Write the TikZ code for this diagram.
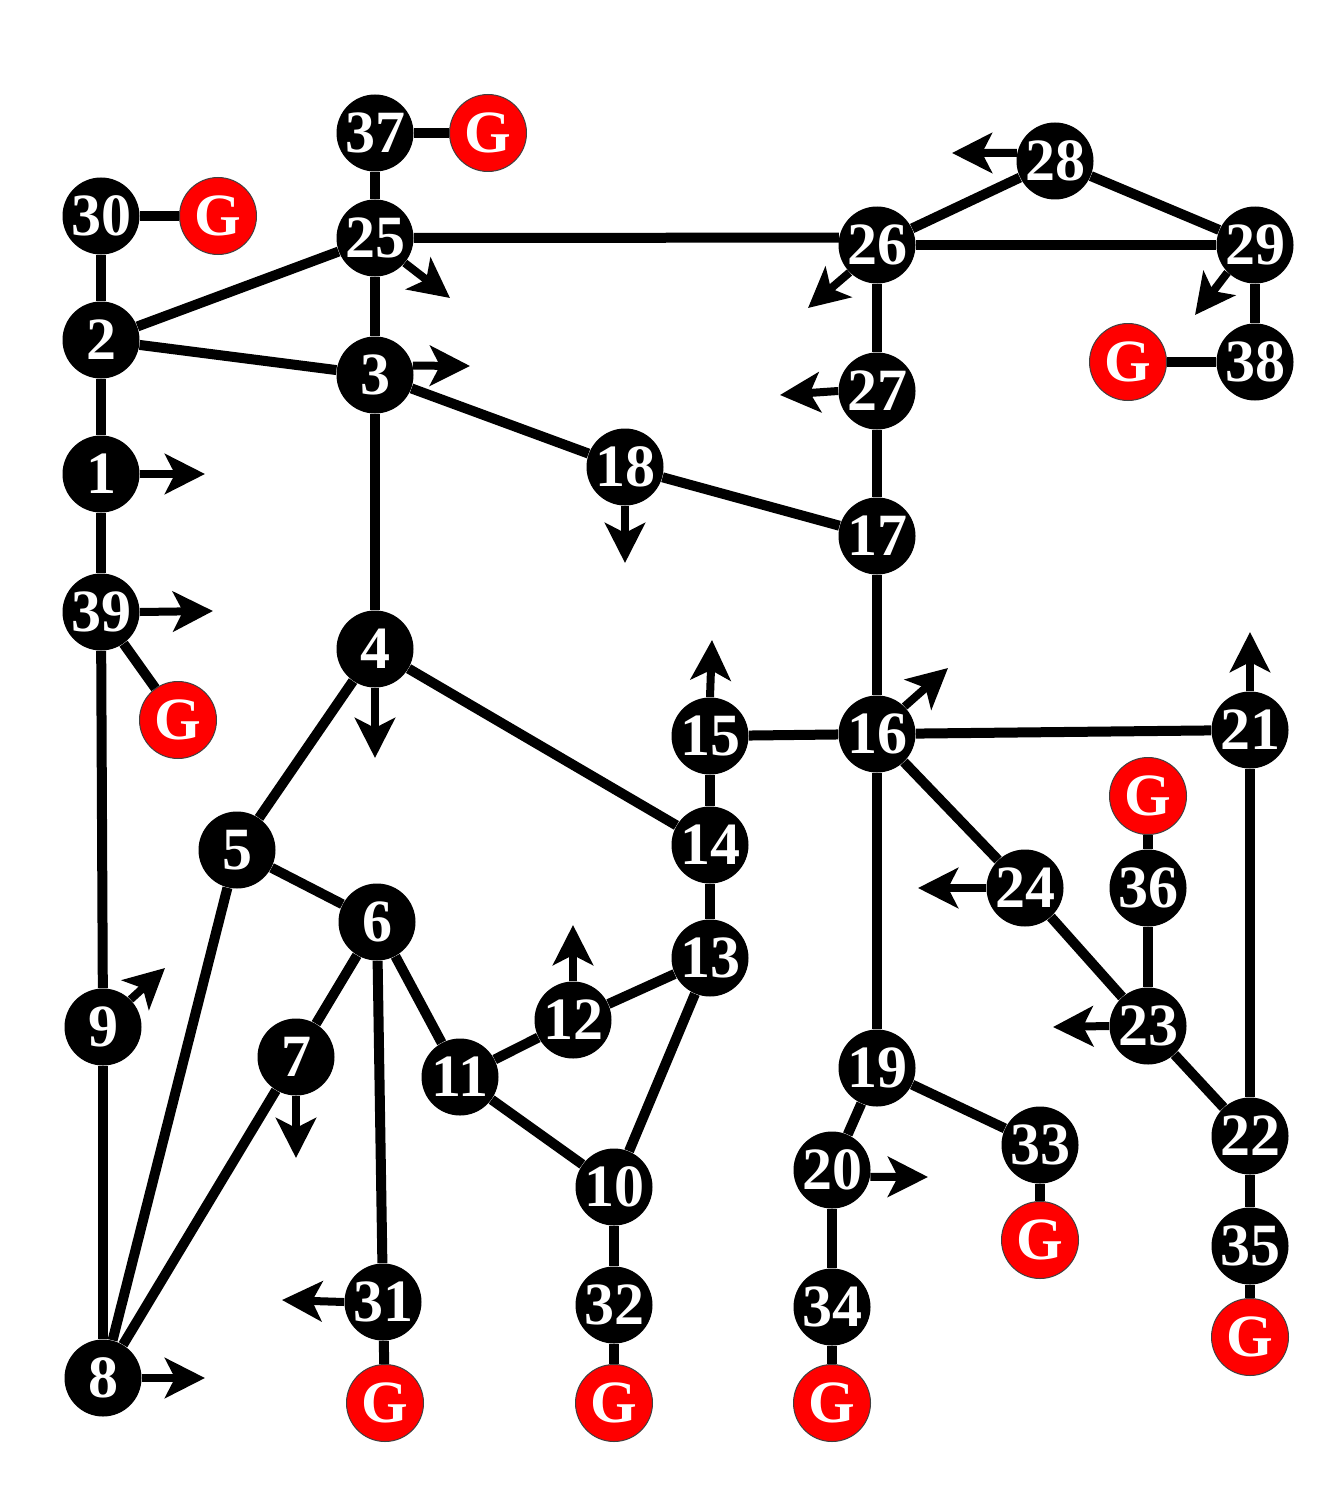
\documentclass[tikz,border=0pt]{standalone}
\usepackage{fontspec}
\setmainfont{Liberation Serif}
\usetikzlibrary{arrows.meta}
\begin{document}
\begin{tikzpicture}[x=0.5pt,y=-0.5pt,
  bus/.style={circle,fill=black,text=white,minimum size=38.5pt,inner sep=0pt,
    font=\fontsize{30}{30}\selectfont\bfseries},
  gen/.style={circle,fill=red,draw=black!75,line width=0.5pt,text=white,minimum size=38.5pt,inner sep=0pt,
    font=\fontsize{30}{30}\selectfont\bfseries},
  ln/.style={line width=5pt},
  load/.style={line width=4pt,-{Stealth[length=20pt,width=20pt,inset=5pt]}}]
\useasboundingbox (0,0) rectangle (1338,1503);
% buses
\node[bus] (b37) at (375,133) {37};
\node[bus] (b30) at (101,216) {30};
\node[bus] (b25) at (375,238) {25};
\node[bus] (b26) at (877,245) {26};
\node[bus] (b28) at (1055,161) {28};
\node[bus] (b29) at (1255,245) {29};
\node[bus] (b38) at (1255,362) {38};
\node[bus] (b2) at (101,340) {2};
\node[bus] (b3) at (375,375) {3};
\node[bus] (b27) at (877,391) {27};
\node[bus] (b1) at (101,474) {1};
\node[bus] (b18) at (625,467) {18};
\node[bus] (b17) at (877,536) {17};
\node[bus] (b39) at (101,612) {39};
\node[bus] (b4) at (375,649) {4};
\node[bus] (b15) at (710,736) {15};
\node[bus] (b16) at (877,734) {16};
\node[bus] (b21) at (1250,730) {21};
\node[bus] (b5) at (237,850) {5};
\node[bus] (b14) at (710,845) {14};
\node[bus] (b6) at (377,922) {6};
\node[bus] (b24) at (1025,888) {24};
\node[bus] (b36) at (1148,888) {36};
\node[bus] (b13) at (710,958) {13};
\node[bus] (b12) at (573,1020) {12};
\node[bus] (b9) at (103,1027) {9};
\node[bus] (b23) at (1148,1026) {23};
\node[bus] (b7) at (296,1057) {7};
\node[bus] (b11) at (460,1077) {11};
\node[bus] (b19) at (877,1068) {19};
\node[bus] (b33) at (1040,1145) {33};
\node[bus] (b22) at (1250,1136) {22};
\node[bus] (b10) at (614,1187) {10};
\node[bus] (b20) at (832,1170) {20};
\node[bus] (b35) at (1250,1246) {35};
\node[bus] (b31) at (383,1302) {31};
\node[bus] (b32) at (614,1305) {32};
\node[bus] (b34) at (832,1307) {34};
\node[bus] (b8) at (103,1378) {8};
% generators
\node[gen] (g37) at (488,133) {G};
\node[gen] (g30) at (218,216) {G};
\node[gen] (g38) at (1128,362) {G};
\node[gen] (g39) at (178,720) {G};
\node[gen] (g36) at (1148,796) {G};
\node[gen] (g33) at (1040,1240) {G};
\node[gen] (g35) at (1250,1337) {G};
\node[gen] (g31) at (385,1403) {G};
\node[gen] (g32) at (614,1403) {G};
\node[gen] (g34) at (832,1403) {G};
% lines
\draw[ln] (b37) -- (g37);
\draw[ln] (b37) -- (b25);
\draw[ln] (b30) -- (g30);
\draw[ln] (b30) -- (b2);
\draw[ln] (b2) -- (b25);
\draw[ln] (b2) -- (b3);
\draw[ln] (b25) -- (b3);
\draw[ln] (b25.east) -- (b26.169);
\draw[ln] (b26) -- (b28);
\draw[ln] (b28) -- (b29);
\draw[ln] (b26.east) -- (b29.west);
\draw[ln] (b29) -- (b38);
\draw[ln] (b38) -- (g38);
\draw[ln] (b26) -- (b27);
\draw[ln] (b27) -- (b17);
\draw[ln] (b3) -- (b18);
\draw[ln] (b18) -- (b17);
\draw[ln] (b3) -- (b4);
\draw[ln] (b2) -- (b1);
\draw[ln] (b1) -- (b39);
\draw[ln] (b39) -- (g39);
\draw[ln] (b39) -- (b9);
\draw[ln] (b9) -- (b8);
\draw[ln] (b4) -- (b5);
\draw[ln] (b4) -- (b14);
\draw[ln] (b5) -- (b6);
\draw[ln] (b5) -- (b8);
\draw[ln] (b6) -- (b7);
\draw[ln] (b7) -- (b8);
\draw[ln] (b6) -- (b31);
\draw[ln] (b31) -- (g31);
\draw[ln] (b6) -- (b11);
\draw[ln] (b11) -- (b12);
\draw[ln] (b12) -- (b13);
\draw[ln] (b11) -- (b10);
\draw[ln] (b10) -- (b13);
\draw[ln] (b10) -- (b32);
\draw[ln] (b32) -- (g32);
\draw[ln] (b13) -- (b14);
\draw[ln] (b14) -- (b15);
\draw[ln] (b15) -- (b16);
\draw[ln] (b17) -- (b16);
\draw[ln] (b16) -- (b21);
\draw[ln] (b16) -- (b24);
\draw[ln] (b16) -- (b19);
\draw[ln] (b24) -- (b23);
\draw[ln] (b23) -- (b36);
\draw[ln] (b36) -- (g36);
\draw[ln] (b23) -- (b22);
\draw[ln] (b21) -- (b22);
\draw[ln] (b22) -- (b35);
\draw[ln] (b35) -- (g35);
\draw[ln] (b19) -- (b33);
\draw[ln] (b33) -- (g33);
\draw[ln] (b19) -- (b20);
\draw[ln] (b20) -- (b34);
\draw[ln] (b34) -- (g34);
% loads
\coordinate (l1) at (205,474);   \draw[load] (b1.east) -- (l1);
\coordinate (l39) at (213,611);  \draw[load] (b39.east) -- (l39);
\coordinate (l8) at (205,1378);  \draw[load] (b8.east) -- (l8);
\coordinate (l3) at (470,366);   \draw[load] (b3.14) -- (l3);
\coordinate (l25) at (450,298);  \draw[load] (b25.-40) -- (l25);
\coordinate (l26) at (808,308);  \draw[load] (b26.-135) -- (l26);
\coordinate (l29) at (1195,315); \draw[load] (b29.-135) -- (l29);
\coordinate (l28) at (952,153);  \draw[load] (b28.168) -- (l28);
\coordinate (l27) at (780,395);  \draw[load] (b27.west) -- (l27);
\coordinate (l18) at (625,563);  \draw[load] (b18.south) -- (l18);
\coordinate (l4) at (375,758);   \draw[load] (b4.south) -- (l4);
\coordinate (l15) at (712,640);  \draw[load] (b15.north) -- (l15);
\coordinate (l16) at (948,668);  \draw[load] (b16.45) -- (l16);
\coordinate (l21) at (1250,632); \draw[load] (b21.north) -- (l21);
\coordinate (l24) at (918,888);  \draw[load] (b24.west) -- (l24);
\coordinate (l12) at (573,925);  \draw[load] (b12.north) -- (l12);
\coordinate (l9) at (165,968);   \draw[load] (b9.45) -- (l9);
\coordinate (l7) at (296,1158);  \draw[load] (b7.south) -- (l7);
\coordinate (l23) at (1053,1027);\draw[load] (b23.west) -- (l23);
\coordinate (l20) at (928,1177); \draw[load] (b20.-10) -- (l20);
\coordinate (l31) at (282,1300); \draw[load] (b31.west) -- (l31);
\end{tikzpicture}
\end{document}
